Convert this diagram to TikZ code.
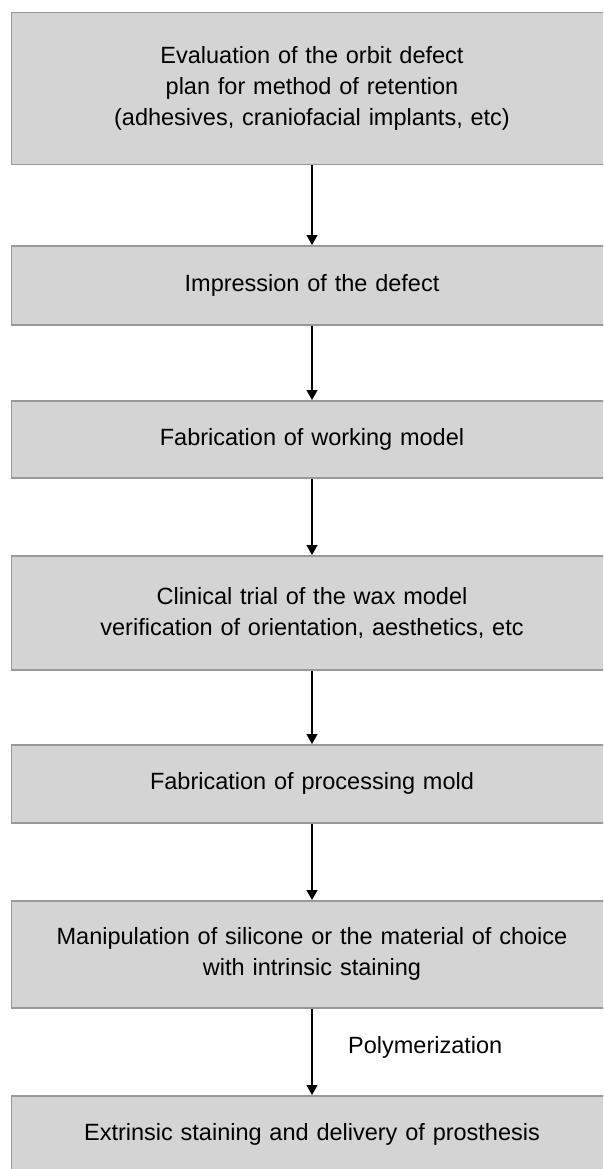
\documentclass[tikz,border=0pt]{standalone}
\usepackage{fontspec}
\setmainfont{Liberation Sans}
\usetikzlibrary{arrows.meta}
\tikzset{
	stepbox/.style={draw=black!40, line width=1.5pt, fill=black!17, anchor=north,
		minimum width=601pt, text width=580pt, align=center, inner sep=0pt,
		font=\fontsize{23.5}{31}\selectfont},
	flow/.style={-{Triangle[width=11pt,length=10pt]}, line width=1.2pt}
}

\begin{document}
\begin{tikzpicture}[x=1pt, y=-1pt]
		%%%%% START %%%%%
		\useasboundingbox (0, 0) rectangle (603, 1169);
		\clip (0, 0) rectangle (603, 1169);
		
		\node[stepbox, minimum height=152pt] (eval) at (312, 12) {Evaluation of the orbit defect\\plan for method of retention\\(adhesives, craniofacial implants, etc)};
		\node[stepbox, minimum height=79pt] (impr) at (312, 245) {Impression of the defect};
		\node[stepbox, minimum height=77pt] (model) at (312, 400) {Fabrication of working model};
		\node[stepbox, minimum height=114pt] (trial) at (312, 555) {Clinical trial of the wax model\\verification of orientation, aesthetics, etc};
		\node[stepbox, minimum height=78pt] (mold) at (312, 744) {Fabrication of processing mold};
		\node[stepbox, minimum height=107pt] (sil) at (312, 900) {Manipulation of silicone or the material of choice\\with intrinsic staining};
		\node[stepbox, minimum height=77pt] (deliv) at (312, 1095) {Extrinsic staining and delivery of prosthesis};
		
		\draw[flow] (eval) -- (impr);
		\draw[flow] (impr) -- (model);
		\draw[flow] (model) -- (trial);
		\draw[flow] (trial) -- (mold);
		\draw[flow] (mold) -- (sil);
		\draw[flow] (sil) -- (deliv);
		
		\node[anchor=west, inner sep=0pt, font=\fontsize{23.5}{31}\selectfont] (poly) at (348, 1047) {Polymerization};
		%%%%% END %%%%%
\end{tikzpicture}
\end{document}
